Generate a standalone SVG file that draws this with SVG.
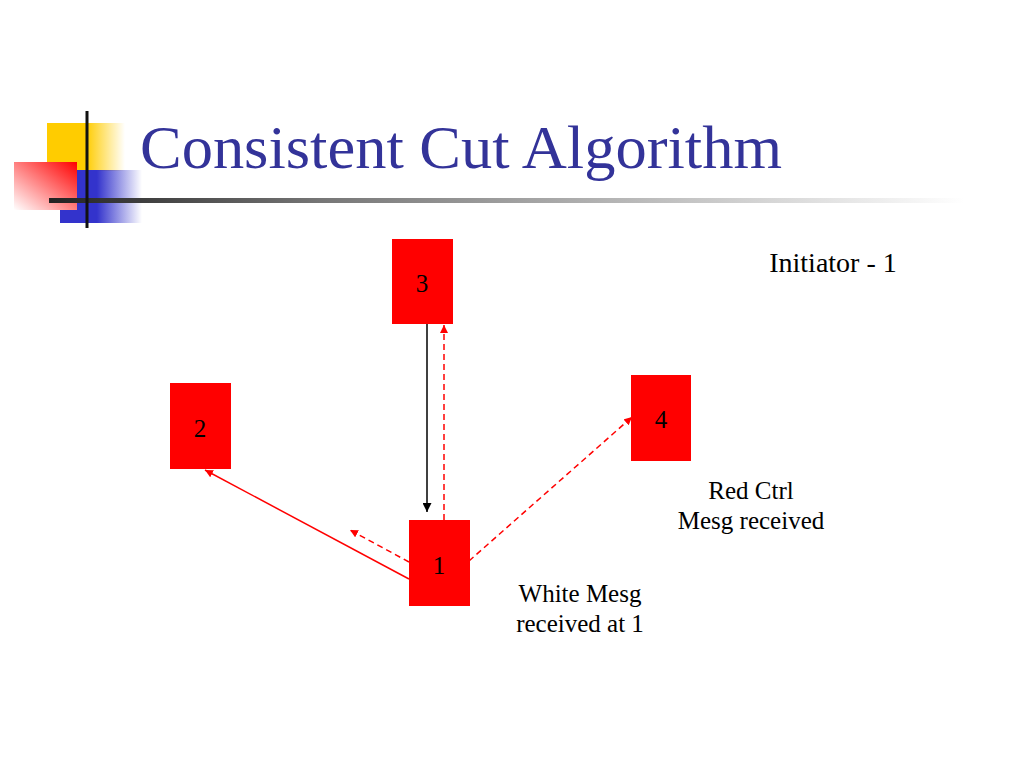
<svg xmlns="http://www.w3.org/2000/svg" width="1024" height="768" viewBox="0 0 1024 768">
  <style>
    .node rect { fill: #FF0000; }
    .num { font-family: "Liberation Serif", "Times New Roman", serif; font-size: 25px; fill: #000; text-anchor: middle; }
    .label { font-family: "Liberation Serif", "Times New Roman", serif; font-size: 25px; fill: #000; text-anchor: middle; }
    .title { font-family: "Liberation Serif", "Times New Roman", serif; font-size: 62px; fill: #333399; }
    .solid-red { stroke: #FF0000; stroke-width: 1.5; fill: none; }
    .dash-red { stroke: #FF0000; stroke-width: 1.5; fill: none; stroke-dasharray: 6 4; }
    .solid-black { stroke: #000; stroke-width: 1.5; fill: none; }
  </style>
  <defs>
    <linearGradient id="gYellow" x1="0" y1="0" x2="1" y2="0">
      <stop offset="0" stop-color="#FFCC00"/>
      <stop offset="0.5" stop-color="#FFCC00"/>
      <stop offset="1" stop-color="#FFCC00" stop-opacity="0"/>
    </linearGradient>
    <linearGradient id="gBlue" x1="0" y1="0" x2="1" y2="0">
      <stop offset="0" stop-color="#3333CC"/>
      <stop offset="0.45" stop-color="#3333CC"/>
      <stop offset="1" stop-color="#3333CC" stop-opacity="0"/>
    </linearGradient>
    <linearGradient id="gRed" x1="1" y1="0" x2="0" y2="1">
      <stop offset="0" stop-color="#FF0000"/>
      <stop offset="1" stop-color="#FFFFFF"/>
    </linearGradient>
    <linearGradient id="gLine" x1="0" y1="0" x2="1" y2="0">
      <stop offset="0" stop-color="#222222"/>
      <stop offset="0.3" stop-color="#777777"/>
      <stop offset="1" stop-color="#FFFFFF"/>
    </linearGradient>
    <marker id="arrRed" viewBox="0 0 10 10" refX="10" refY="5" markerWidth="8" markerHeight="8" orient="auto" markerUnits="userSpaceOnUse">
      <path d="M0,0 L10,5 L0,10 Z" fill="#FF0000"/>
    </marker>
    <marker id="arrBlack" viewBox="0 0 10 10" refX="10" refY="5" markerWidth="9" markerHeight="9" orient="auto" markerUnits="userSpaceOnUse">
      <path d="M0,0 L10,5 L0,10 Z" fill="#000"/>
    </marker>
  </defs>
  <rect width="1024" height="768" fill="#FFFFFF"/>

  <g id="logo">
    <rect x="47" y="123" width="78" height="48" fill="url(#gYellow)"/>
    <rect x="60" y="170" width="82" height="53" fill="url(#gBlue)"/>
    <rect x="14" y="162" width="63" height="48" fill="url(#gRed)"/>
    <rect x="49" y="198" width="915" height="5" fill="url(#gLine)"/>
    <line x1="87" y1="111" x2="87" y2="228" stroke="#111" stroke-width="3"/>
  </g>

  <text class="title" x="140" y="168" textLength="642" lengthAdjust="spacingAndGlyphs">Consistent Cut Algorithm</text>

  <g id="connectors">
    <line class="solid-black" x1="427" y1="324" x2="427" y2="512" marker-end="url(#arrBlack)"/>
    <line class="dash-red" x1="444" y1="520" x2="444" y2="325" marker-end="url(#arrRed)"/>
    <line class="solid-red" x1="409" y1="579" x2="205" y2="470" marker-end="url(#arrRed)"/>
    <line class="dash-red" x1="409" y1="562" x2="350" y2="530" marker-end="url(#arrRed)"/>
    <line class="dash-red" x1="469" y1="561" x2="632" y2="417" marker-end="url(#arrRed)"/>
  </g>

  <g id="node3" class="node">
    <rect x="392" y="239" width="61" height="85"/>
    <text class="num" x="422" y="292">3</text>
  </g>
  <g id="node2" class="node">
    <rect x="170" y="383" width="61" height="86"/>
    <text class="num" x="200" y="437">2</text>
  </g>
  <g id="node4" class="node">
    <rect x="631" y="375" width="60" height="86"/>
    <text class="num" x="661" y="428">4</text>
  </g>
  <g id="node1" class="node">
    <rect x="409" y="520" width="61" height="86"/>
    <text class="num" x="439" y="574">1</text>
  </g>

  <text class="label" x="833" y="272" style="font-size:28px">Initiator - 1</text>
  <text class="label" x="751" y="499">Red Ctrl</text>
  <text class="label" x="751" y="529">Mesg received</text>
  <text class="label" x="580" y="602">White Mesg</text>
  <text class="label" x="580" y="632">received at 1</text>
</svg>
